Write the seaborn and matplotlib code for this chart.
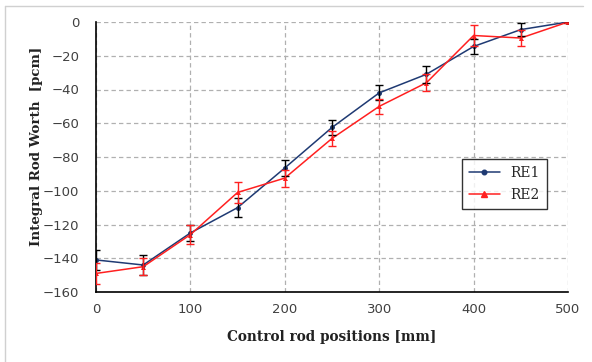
import numpy as np
import pandas as pd
import matplotlib
matplotlib.use("Agg")
import matplotlib.pyplot as plt
import seaborn as sns
from matplotlib.lines import Line2D

positions = [0, 50, 100, 150, 200, 250, 300, 350, 400, 450, 500]
re1 = [-141, -144, -125, -110, -86.5, -62.5, -42, -31, -14.5, -4.5, 0]
re2 = [-149, -145, -126, -101, -92.5, -69, -50, -36, -8, -9.5, 0]
re1_err = [6, 6, 5, 5.5, 5, 4.5, 4.5, 5, 4.5, 4, 0.5]
re2_err = [6, 5, 5.5, 6, 5, 4.5, 4.5, 5, 6.5, 5, 0.5]
xticks = [0, 100, 200, 300, 400, 500]
yticks = [0, -20, -40, -60, -80, -100, -120, -140, -160]

df = pd.DataFrame({
    "pos": positions * 2,
    "val": re1 + re2,
    "series": ["RE1"] * len(positions) + ["RE2"] * len(positions),
})

sns.set_theme(style="white")
plt.rcParams["font.family"] = ["DejaVu Sans"]

fig = plt.figure(figsize=(5.92, 3.62), dpi=100)
ax = fig.add_axes([96 / 592, 1 - 292 / 362, (568 - 96) / 592, (292 - 22) / 362])

c1 = "#1F3A73"
c2 = "#FF2020"

sns.lineplot(data=df, x="pos", y="val", hue="series", style="series",
             palette={"RE1": c1, "RE2": c2}, markers={"RE1": "o", "RE2": "^"},
             dashes=False, markersize=3.6, linewidth=1.1, ax=ax, legend=False,
             markeredgewidth=0, zorder=3)

ax.errorbar(positions, re1, yerr=re1_err, fmt="none", ecolor="black",
            elinewidth=1, capsize=3, capthick=1, zorder=4)
ax.errorbar(positions, re2, yerr=re2_err, fmt="none", ecolor=c2,
            elinewidth=1, capsize=3, capthick=1, zorder=4)

ax.set_xlim(0, 500)
ax.set_ylim(-160, 0)
ax.set_xticks(xticks)
ax.set_yticks(yticks)
ax.grid(True, linestyle=(0, (3.5, 2.5)), color="#B0B0B0", linewidth=0.9)
ax.set_axisbelow(True)
for s in ["top", "right"]:
    ax.spines[s].set_visible(False)
for s in ["left", "bottom"]:
    ax.spines[s].set_color("black")
    ax.spines[s].set_linewidth(1.2)
ax.tick_params(axis="both", labelsize=9.5, colors="#404040", length=0, pad=8)
ax.tick_params(axis="y", pad=12)
for lab in ax.get_xticklabels() + ax.get_yticklabels():
    lab.set_color("#404040")

ax.set_xlabel("Control rod positions [mm]", fontsize=9.8, fontweight="bold",
              family="DejaVu Serif", color="#222222")
ax.set_ylabel("Integral Rod Worth  [pcm]", fontsize=9.6, fontweight="bold",
              family="DejaVu Serif", color="#222222")
ax.xaxis.set_label_coords(0.5, -(337 - 292) / 270, transform=ax.transAxes)
ax.xaxis.label.set_va("center")
ax.yaxis.set_label_coords((37 - 96) / 472, 1 - (146 - 22) / 270, transform=ax.transAxes)
ax.yaxis.label.set_va("center")

handles = [
    Line2D([0], [0], color=c1, marker="o", markersize=3.3, linewidth=1.1),
    Line2D([0], [0], color=c2, marker="^", markersize=3.8, linewidth=1.1),
]
leg = ax.legend(handles, ["RE1", "RE2"], loc="upper left",
                bbox_to_anchor=((462 - 96) / 472, 1 - (159 - 22) / 270),
                frameon=True, fancybox=False, edgecolor="black",
                prop={"family": "DejaVu Serif", "size": 10},
                handlelength=2.2, borderpad=0.5, labelspacing=0.6,
                borderaxespad=0)
leg.get_frame().set_linewidth(1.0)

fig.add_artist(Line2D([5 / 592, 583 / 592], [1 - 6 / 362, 1 - 6 / 362],
                      color="#D0D0D0", linewidth=1, transform=fig.transFigure))
fig.add_artist(Line2D([5 / 592, 5 / 592], [1 - 6 / 362, 0], color="#D0D0D0",
                      linewidth=1, transform=fig.transFigure))

fig.savefig("out.png", dpi=100)
